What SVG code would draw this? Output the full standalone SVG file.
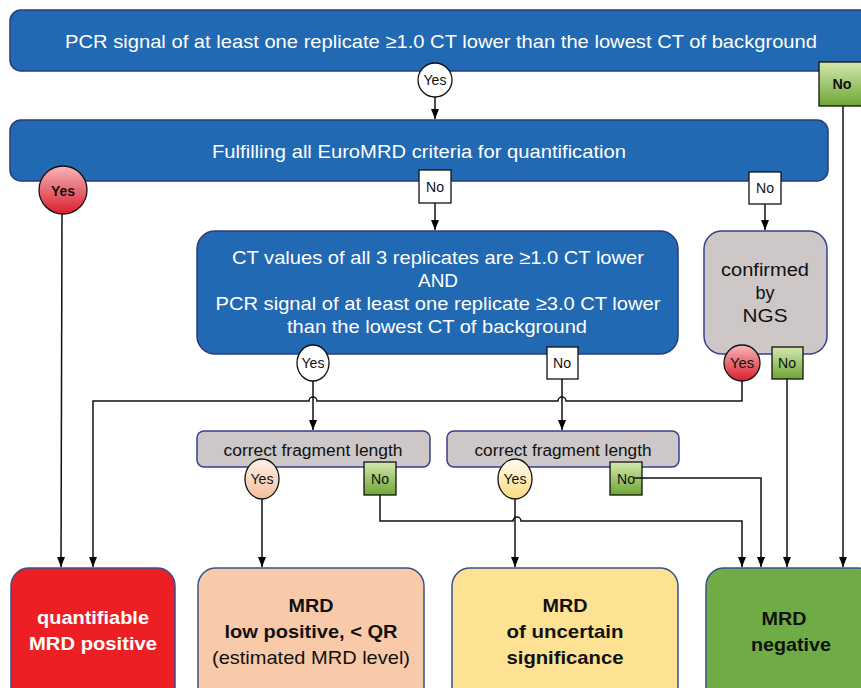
<svg xmlns="http://www.w3.org/2000/svg" width="861" height="688" viewBox="0 0 861 688">
<defs>
<marker id="arr" viewBox="0 0 10 8" refX="10" refY="4" markerWidth="10" markerHeight="8" markerUnits="userSpaceOnUse" orient="auto">
<path d="M0,0 L10,4 L0,8 Z" fill="#000"/>
</marker>
<linearGradient id="gGreen" x1="0" y1="0" x2="0" y2="1"><stop offset="0" stop-color="#d3e8ad"/><stop offset="1" stop-color="#6ea535"/></linearGradient>
<linearGradient id="gRed" x1="0" y1="0" x2="0" y2="1"><stop offset="0" stop-color="#f8b6ba"/><stop offset="1" stop-color="#d81f2c"/></linearGradient>
<linearGradient id="gPeach" x1="0" y1="0" x2="0" y2="1"><stop offset="0" stop-color="#fdf0e8"/><stop offset="1" stop-color="#f4bf9d"/></linearGradient>
<linearGradient id="gYellow" x1="0" y1="0" x2="0" y2="1"><stop offset="0" stop-color="#fffdf0"/><stop offset="1" stop-color="#f9dc80"/></linearGradient>
</defs>
<style>
.blue{fill:#2169b3;stroke:#2d3b7c;stroke-width:1.5}
.grey{fill:#cdc7c7;stroke:#3a3f8a;stroke-width:1.5}
.wt{font-family:"Liberation Sans",Arial,sans-serif;fill:#fff;text-anchor:middle}
.bt{font-family:"Liberation Sans",Arial,sans-serif;fill:#111;text-anchor:middle}
.lbl{font-family:"Liberation Sans",Arial,sans-serif;font-size:14px;fill:#111;text-anchor:middle}
.lb{stroke:#111;stroke-width:1.3}
.con{fill:none;stroke:#111;stroke-width:1.5}
.res{stroke:#3a4f8a;stroke-width:1.5}
</style>
<rect width="861" height="688" fill="#fff"/>

<g id="connectors">
<path class="con" d="M435,97 V119" marker-end="url(#arr)"/>
<path class="con" d="M843,106 V567" marker-end="url(#arr)"/>
<path class="con" d="M62,214 L61,567" marker-end="url(#arr)"/>
<path class="con" d="M435,203 V230" marker-end="url(#arr)"/>
<path class="con" d="M765,204 V230" marker-end="url(#arr)"/>
<path class="con" d="M742,381 V401 H566 a4,4 0 0 0 -8,0 H317 a4,4 0 0 0 -8,0 H93 V567" marker-end="url(#arr)"/>
<path class="con" d="M313,381 V430" marker-end="url(#arr)"/>
<path class="con" d="M562,379 V430" marker-end="url(#arr)"/>
<path class="con" d="M787,379 V567" marker-end="url(#arr)"/>
<path class="con" d="M262,499 V567" marker-end="url(#arr)"/>
<path class="con" d="M380,495 V521 H513 a4,4 0 0 1 8,0 H742 V567" marker-end="url(#arr)"/>
<path class="con" d="M515,499 V567" marker-end="url(#arr)"/>
<path class="con" d="M634,478 H761 V567" marker-end="url(#arr)"/>
</g>

<g id="top">
<rect class="blue" x="10" y="10" width="870" height="61" rx="11"/>
<text class="wt" x="441" y="48" font-size="19" textLength="752" lengthAdjust="spacingAndGlyphs">PCR signal of at least one replicate ≥1.0 CT lower than the lowest CT of background</text>
</g>
<g id="top-yes">
<circle cx="435" cy="80" r="17" fill="#fff" class="lb"/>
<text class="lbl" x="435" y="85" textLength="23" lengthAdjust="spacingAndGlyphs">Yes</text>
</g>
<g id="top-no">
<rect x="819" y="62" width="44" height="44" fill="url(#gGreen)" class="lb"/>
<text class="lbl" x="842" y="89" font-weight="bold" textLength="19" lengthAdjust="spacingAndGlyphs">No</text>
</g>

<g id="euromrd">
<rect class="blue" x="10" y="120" width="818" height="61" rx="11"/>
<text class="wt" x="419" y="158" font-size="19" textLength="414" lengthAdjust="spacingAndGlyphs">Fulfilling all EuroMRD criteria for quantification</text>
</g>
<g id="euro-yes">
<circle cx="63" cy="190" r="24" fill="url(#gRed)" class="lb"/>
<text class="lbl" x="63" y="196" font-weight="bold" textLength="24" lengthAdjust="spacingAndGlyphs">Yes</text>
</g>
<g id="euro-no1">
<rect x="419" y="170" width="32" height="33" fill="#fff" class="lb"/>
<text class="lbl" x="435" y="192" textLength="18" lengthAdjust="spacingAndGlyphs">No</text>
</g>
<g id="euro-no2">
<rect x="749" y="172" width="32" height="32" fill="#fff" class="lb"/>
<text class="lbl" x="765" y="193" textLength="18" lengthAdjust="spacingAndGlyphs">No</text>
</g>

<g id="ct-values">
<rect class="blue" x="197" y="231" width="481" height="123" rx="18"/>
<text class="wt" font-size="19" x="438" y="264" textLength="412" lengthAdjust="spacingAndGlyphs">CT values of all 3 replicates are ≥1.0 CT lower</text>
<text class="wt" font-size="19" x="438" y="287" textLength="40" lengthAdjust="spacingAndGlyphs">AND</text>
<text class="wt" font-size="19" x="438" y="310" textLength="445" lengthAdjust="spacingAndGlyphs">PCR signal of at least one replicate ≥3.0 CT lower</text>
<text class="wt" font-size="19" x="437" y="333" textLength="300" lengthAdjust="spacingAndGlyphs">than the lowest CT of background</text>
</g>
<g id="ct-yes">
<ellipse cx="313" cy="363" rx="16" ry="18" fill="#fff" class="lb"/>
<text class="lbl" x="313" y="368" textLength="23" lengthAdjust="spacingAndGlyphs">Yes</text>
</g>
<g id="ct-no">
<rect x="547" y="347" width="31" height="32" fill="#fff" class="lb"/>
<text class="lbl" x="562" y="368" textLength="18" lengthAdjust="spacingAndGlyphs">No</text>
</g>

<g id="ngs">
<rect class="grey" x="704" y="231" width="123" height="123" rx="18"/>
<text class="bt" font-size="18" x="765" y="276" textLength="88" lengthAdjust="spacingAndGlyphs">confirmed</text>
<text class="bt" font-size="18" x="765" y="299">by</text>
<text class="bt" font-size="18" x="765" y="322" textLength="45" lengthAdjust="spacingAndGlyphs">NGS</text>
</g>
<g id="ngs-yes">
<circle cx="742" cy="363" r="18" fill="url(#gRed)" class="lb"/>
<text class="lbl" x="742" y="368" textLength="24" lengthAdjust="spacingAndGlyphs">Yes</text>
</g>
<g id="ngs-no">
<rect x="772" y="347" width="31" height="32" fill="url(#gGreen)" class="lb"/>
<text class="lbl" x="787" y="368" textLength="18" lengthAdjust="spacingAndGlyphs">No</text>
</g>

<g id="frag1">
<rect class="grey" x="197" y="431" width="233" height="36" rx="7"/>
<text class="bt" font-size="16" x="313" y="456" textLength="179" lengthAdjust="spacingAndGlyphs">correct fragment length</text>
</g>
<g id="frag1-yes">
<ellipse cx="262" cy="479" rx="17" ry="20" fill="url(#gPeach)" class="lb"/>
<text class="lbl" x="262" y="484" textLength="23" lengthAdjust="spacingAndGlyphs">Yes</text>
</g>
<g id="frag1-no">
<rect x="364" y="462" width="32" height="33" fill="url(#gGreen)" class="lb"/>
<text class="lbl" x="380" y="484" textLength="18" lengthAdjust="spacingAndGlyphs">No</text>
</g>

<g id="frag2">
<rect class="grey" x="447" y="431" width="232" height="36" rx="7"/>
<text class="bt" font-size="16" x="563" y="456" textLength="177" lengthAdjust="spacingAndGlyphs">correct fragment length</text>
</g>
<g id="frag2-yes">
<ellipse cx="515" cy="479" rx="17" ry="20" fill="url(#gYellow)" class="lb"/>
<text class="lbl" x="515" y="484" textLength="23" lengthAdjust="spacingAndGlyphs">Yes</text>
</g>
<g id="frag2-no">
<rect x="610" y="462" width="32" height="33" fill="url(#gGreen)" class="lb"/>
<text class="lbl" x="626" y="484" textLength="18" lengthAdjust="spacingAndGlyphs">No</text>
<path class="con" d="M634,478 H642"/>
</g>

<g id="res-positive">
<rect class="res" x="11" y="568" width="164" height="140" rx="18" fill="#ed1f24"/>
<text class="wt" font-weight="bold" font-size="19" x="93" y="624" textLength="112" lengthAdjust="spacingAndGlyphs">quantifiable</text>
<text class="wt" font-weight="bold" font-size="19" x="93" y="650" textLength="128" lengthAdjust="spacingAndGlyphs">MRD positive</text>
</g>
<g id="res-low">
<rect class="res" x="198" y="568" width="226" height="140" rx="18" fill="#f8caa9"/>
<text class="bt" font-weight="bold" font-size="19" x="311" y="612" textLength="45" lengthAdjust="spacingAndGlyphs">MRD</text>
<text class="bt" font-weight="bold" font-size="19" x="311" y="638" textLength="173" lengthAdjust="spacingAndGlyphs">low positive, &lt; QR</text>
<text class="bt" font-size="19" x="311" y="664" textLength="198" lengthAdjust="spacingAndGlyphs">(estimated MRD level)</text>
</g>
<g id="res-uncertain">
<rect class="res" x="452" y="568" width="226" height="140" rx="18" fill="#fde293"/>
<text class="bt" font-weight="bold" font-size="19" x="565" y="612" textLength="45" lengthAdjust="spacingAndGlyphs">MRD</text>
<text class="bt" font-weight="bold" font-size="19" x="565" y="638" textLength="117" lengthAdjust="spacingAndGlyphs">of uncertain</text>
<text class="bt" font-weight="bold" font-size="19" x="565" y="664" textLength="117" lengthAdjust="spacingAndGlyphs">significance</text>
</g>
<g id="res-negative">
<rect class="res" x="706" y="568" width="170" height="140" rx="18" fill="#6fac46"/>
<text class="bt" font-weight="bold" font-size="19" x="784" y="625" textLength="45" lengthAdjust="spacingAndGlyphs">MRD</text>
<text class="bt" font-weight="bold" font-size="19" x="791" y="651" textLength="80" lengthAdjust="spacingAndGlyphs">negative</text>
</g>
</svg>
